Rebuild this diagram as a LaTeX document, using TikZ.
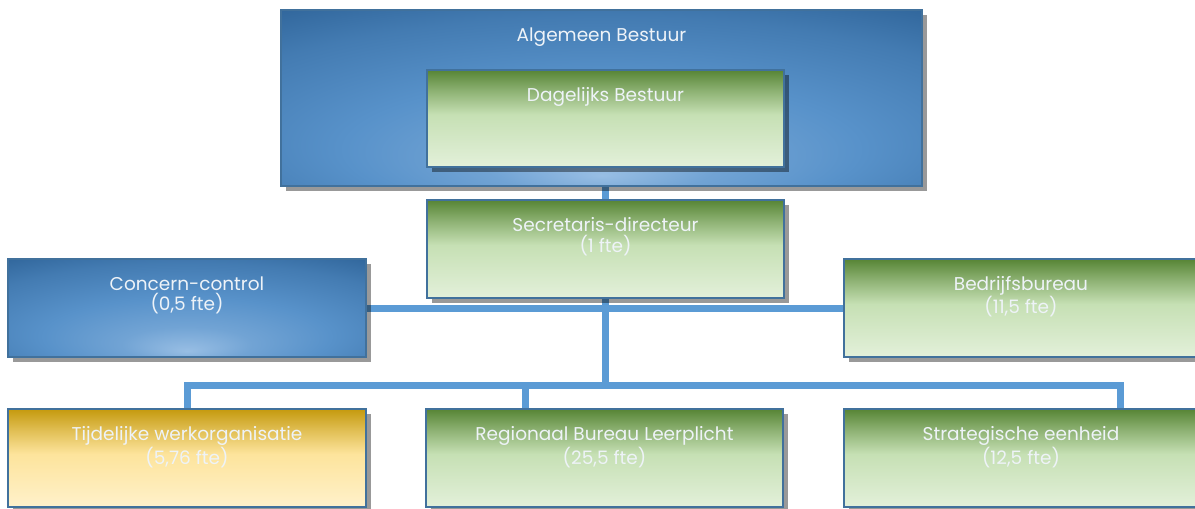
\documentclass[tikz,border=0pt]{standalone}
\usepackage{fontspec}
\setmainfont{Poppins}
\usetikzlibrary{shadows,backgrounds,positioning}

\definecolor{boxline}{HTML}{41719C}
\definecolor{bluedark}{HTML}{2A5F94}
\definecolor{bluemid}{HTML}{5892CA}
\definecolor{bluelight}{HTML}{98BEE4}
\definecolor{greentop}{HTML}{578535}
\definecolor{greenmid}{HTML}{C6E0B4}
\definecolor{greenbot}{HTML}{E3F0DA}
\definecolor{goldtop}{HTML}{C59A0E}
\definecolor{goldmid}{HTML}{FDE49C}
\definecolor{goldbot}{HTML}{FFF1CB}
\definecolor{wire}{HTML}{5B9BD5}
\definecolor{labeltext}{HTML}{EEF3F8}

\pgfdeclareradialshading{bluefill}{\pgfpoint{0bp}{-22bp}}{color(0bp)=(bluelight); color(9bp)=(bluemid!60!bluelight); color(20bp)=(bluemid); color(33bp)=(bluemid!55!bluedark); color(44bp)=(bluedark); color(60bp)=(bluedark)}
\pgfdeclareverticalshading{greenfill}{100bp}{color(0bp)=(greenbot); color(25bp)=(greenbot); color(52bp)=(greenmid); color(64bp)=(greenmid!50!greentop); color(75bp)=(greentop); color(100bp)=(greentop)}
\pgfdeclareverticalshading{goldfill}{100bp}{color(0bp)=(goldbot); color(25bp)=(goldbot); color(52bp)=(goldmid); color(64bp)=(goldmid!50!goldtop); color(75bp)=(goldtop); color(100bp)=(goldtop)}

\tikzset{
  unit/.style={draw=boxline, line width=2pt, inner sep=0pt, outer sep=0pt,
    minimum height=98pt,
    drop shadow={shadow xshift=5pt, shadow yshift=-5pt, fill=black, opacity=0.4}},
  bluebox/.style={unit, shading=bluefill},
  greenbox/.style={unit, shading=greenfill},
  goldbox/.style={unit, shading=goldfill},
  lbl/.style={text=labeltext, font=\fontsize{18.5}{20.5}\selectfont, align=center, inner sep=0pt},
  wire/.style={draw=wire, line width=7pt, line join=miter}
}

\begin{document}
\begin{tikzpicture}[x=1pt, y=-1pt]
  \useasboundingbox (0,0) rectangle (1195,509);

  \node[bluebox, minimum width=641pt, minimum height=176pt] (AB) at (601.5,98) {};
  \node[greenbox, minimum width=357pt, minimum height=97pt] (DB) at (605.5,118.5) {};
  \node[greenbox, minimum width=357pt] (SD) at (605.5,249) {};
  \node[bluebox, minimum width=358pt] (CC) at (187,308) {};
  \node[greenbox, minimum width=354pt] (BB) at (1021,308) {};
  \node[goldbox, minimum width=358pt] (TW) at (187,458) {};
  \node[greenbox, minimum width=357pt] (RB) at (604.5,458) {};
  \node[greenbox, minimum width=354pt] (SE) at (1021,458) {};

  \node[lbl, below=17.5pt of AB.north] (ABt) {Algemeen Bestuur};
  \node[lbl, below=17.5pt of DB.north] (DBt) {Dagelijks Bestuur};
  \node[lbl, below=17.5pt of SD.north] (SDt) {Secretaris-directeur\\(1 fte)};
  \node[lbl, below=17.5pt of CC.north] (CCt) {Concern-control\\(0,5 fte)};
  \node[lbl, below=17.5pt of BB.north] (BBt) {Bedrijfsbureau\\(11,5 fte)};
  \node[lbl, below=17.5pt of TW.north] (TWt) {Tijdelijke werkorganisatie\\(5,76 fte)};
  \node[lbl, below=17.5pt of RB.north] (RBt) {Regionaal Bureau Leerplicht\\(25,5 fte)};
  \node[lbl, below=17.5pt of SE.north] (SEt) {Strategische eenheid\\(12,5 fte)};

  % lijnen
  \coordinate (bus) at (0,385);
  \coordinate (RBin) at (525,409);
  \coordinate (SEin) at (1120,409);
  \begin{scope}[on background layer]
    \fill[white] (0,0) rectangle (1195,509);
    \draw[wire] (SD.north |- AB.south) -- (SD.north);
    \draw[wire] (CC.east) -- (BB.west);
    \draw[wire] (SD.south) -- (SD.south |- bus);
    \draw[wire] (TW.north) -- (TW.north |- bus) -- (SEin |- bus) -- (SEin);
    \draw[wire] (RBin |- bus) -- (RBin);
  \end{scope}
\end{tikzpicture}
\end{document}
